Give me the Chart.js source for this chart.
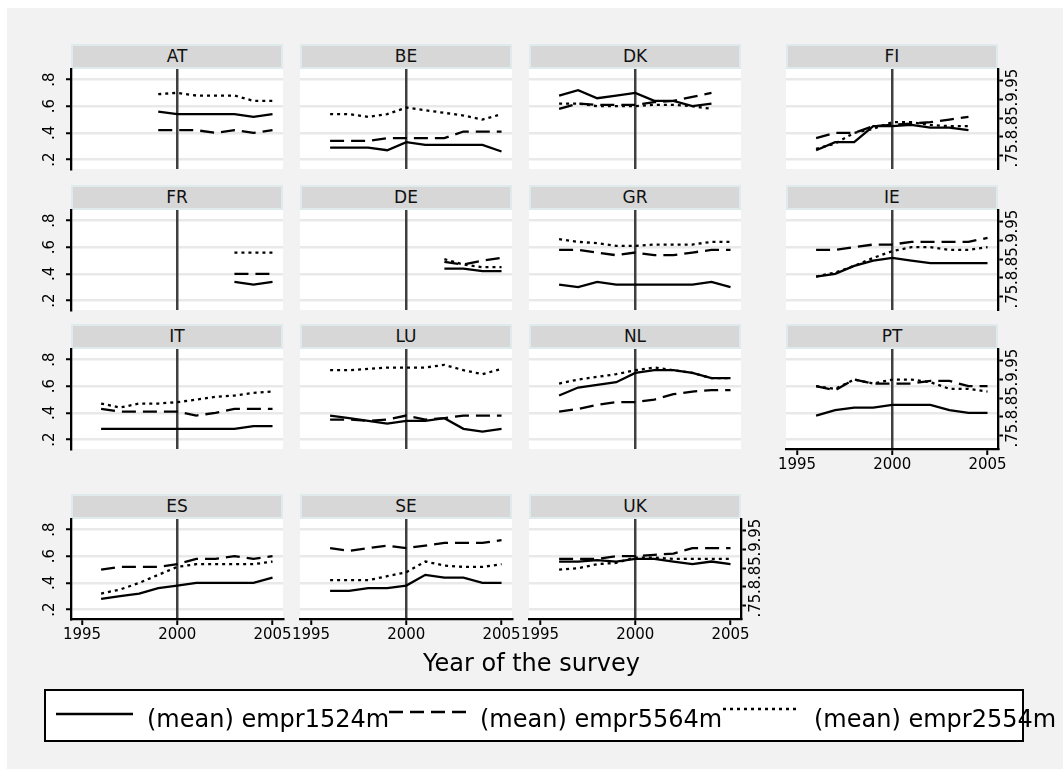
<!DOCTYPE html>
<html><head><meta charset="utf-8">
<script src="https://cdn.jsdelivr.net/npm/chart.js@4.4.1/dist/chart.umd.min.js"></script>
<style>
html,body{margin:0;padding:0;background:#fff;width:1063px;height:769px;overflow:hidden;font-family:'DejaVu Sans',sans-serif;position:relative;}
#bg{position:absolute;left:7px;top:8px;right:0;bottom:0;background:#f2f2f2;}
canvas{position:absolute;}
.strip{position:absolute;background:#d7d7d7;box-sizing:border-box;border:2px solid #dfeaed;text-align:center;font-size:17px;line-height:21px;color:#111;}
.t{position:absolute;white-space:nowrap;color:#000;}
#legbox{position:absolute;left:44px;top:689px;width:980px;height:53px;box-sizing:border-box;border:2px solid #000;background:#fff;}
</style></head><body>
<div id="bg"></div>
<div class="t" style="left:128px;top:-24.5px;font-size:24px;line-height:24px;">(mean)</div>
<div id="legbox"></div>
<script>
// ---------- data ----------
const seriesNames = ['(mean) empr1524m', '(mean) empr5564m', '(mean) empr2554m'];
const xTicks = [1995, 2000, 2005];
const xTickLabels = ['1995', '2000', '2005'];
const yTicks = [0.2, 0.4, 0.6, 0.8];
const yTickLabels = ['.2', '.4', '.6', '.8'];
const y2Ticks = [0.75, 0.8, 0.85, 0.9, 0.95];
const y2TickLabels = ['.75', '.8', '.85', '.9', '.95'];

const years_AT = [1999, 2000, 2001, 2002, 2003, 2004, 2005];
const AT_1524 = [0.56, 0.54, 0.54, 0.54, 0.54, 0.52, 0.54];
const AT_5564 = [0.42, 0.42, 0.42, 0.40, 0.42, 0.40, 0.42];
const AT_2554 = [0.69, 0.70, 0.68, 0.68, 0.68, 0.64, 0.64];

const years_BE = [1996, 1997, 1998, 1999, 2000, 2001, 2002, 2003, 2004, 2005];
const BE_1524 = [0.29, 0.29, 0.29, 0.27, 0.33, 0.31, 0.31, 0.31, 0.31, 0.26];
const BE_5564 = [0.34, 0.34, 0.34, 0.36, 0.36, 0.36, 0.36, 0.41, 0.41, 0.41];
const BE_2554 = [0.54, 0.54, 0.52, 0.54, 0.59, 0.57, 0.55, 0.53, 0.50, 0.54];

const years_DK = [1996, 1997, 1998, 1999, 2000, 2001, 2002, 2003, 2004];
const DK_1524 = [0.68, 0.72, 0.66, 0.68, 0.70, 0.64, 0.64, 0.60, 0.62];
const DK_5564 = [0.58, 0.62, 0.61, 0.61, 0.61, 0.63, 0.64, 0.67, 0.70];
const DK_2554 = [0.62, 0.62, 0.60, 0.60, 0.60, 0.61, 0.61, 0.60, 0.58];

const years_FI = [1996, 1997, 1998, 1999, 2000, 2001, 2002, 2003, 2004];
const FI_1524 = [0.27, 0.33, 0.33, 0.45, 0.45, 0.46, 0.44, 0.44, 0.42];
const FI_5564 = [0.36, 0.40, 0.40, 0.45, 0.46, 0.47, 0.48, 0.50, 0.52];
const FI_2554 = [0.28, 0.32, 0.40, 0.43, 0.48, 0.48, 0.46, 0.45, 0.45];

const years_FR = [2003, 2004, 2005];
const FR_1524 = [0.34, 0.32, 0.34];
const FR_5564 = [0.40, 0.40, 0.40];
const FR_2554 = [0.56, 0.56, 0.56];

const years_DE = [2002, 2003, 2004, 2005];
const DE_1524 = [0.44, 0.44, 0.42, 0.42];
const DE_5564 = [0.49, 0.47, 0.50, 0.52];
const DE_2554 = [0.51, 0.47, 0.45, 0.45];

const years_GR = [1996, 1997, 1998, 1999, 2000, 2001, 2002, 2003, 2004, 2005];
const GR_1524 = [0.32, 0.30, 0.34, 0.32, 0.32, 0.32, 0.32, 0.32, 0.34, 0.30];
const GR_5564 = [0.58, 0.58, 0.56, 0.54, 0.56, 0.54, 0.54, 0.56, 0.58, 0.58];
const GR_2554 = [0.66, 0.64, 0.63, 0.61, 0.61, 0.62, 0.62, 0.62, 0.64, 0.64];

const years_IE = [1996, 1997, 1998, 1999, 2000, 2001, 2002, 2003, 2004, 2005];
const IE_1524 = [0.38, 0.40, 0.46, 0.50, 0.52, 0.50, 0.48, 0.48, 0.48, 0.48];
const IE_5564 = [0.58, 0.58, 0.60, 0.62, 0.62, 0.64, 0.64, 0.64, 0.64, 0.67];
const IE_2554 = [0.38, 0.41, 0.46, 0.52, 0.57, 0.60, 0.60, 0.58, 0.58, 0.60];

const years_IT = [1996, 1997, 1998, 1999, 2000, 2001, 2002, 2003, 2004, 2005];
const IT_1524 = [0.28, 0.28, 0.28, 0.28, 0.28, 0.28, 0.28, 0.28, 0.30, 0.30];
const IT_5564 = [0.43, 0.41, 0.41, 0.41, 0.41, 0.38, 0.40, 0.43, 0.43, 0.43];
const IT_2554 = [0.47, 0.44, 0.47, 0.47, 0.48, 0.50, 0.52, 0.53, 0.55, 0.56];

const years_LU = [1996, 1997, 1998, 1999, 2000, 2001, 2002, 2003, 2004, 2005];
const LU_1524 = [0.38, 0.36, 0.34, 0.32, 0.34, 0.34, 0.36, 0.28, 0.26, 0.28];
const LU_5564 = [0.35, 0.35, 0.34, 0.35, 0.38, 0.35, 0.36, 0.38, 0.38, 0.38];
const LU_2554 = [0.72, 0.72, 0.73, 0.74, 0.74, 0.74, 0.76, 0.72, 0.69, 0.73];

const years_NL = [1996, 1997, 1998, 1999, 2000, 2001, 2002, 2003, 2004, 2005];
const NL_1524 = [0.53, 0.59, 0.61, 0.63, 0.70, 0.72, 0.72, 0.70, 0.66, 0.66];
const NL_5564 = [0.41, 0.43, 0.46, 0.48, 0.48, 0.50, 0.54, 0.56, 0.57, 0.57];
const NL_2554 = [0.62, 0.65, 0.67, 0.69, 0.72, 0.74, 0.72, 0.70, 0.66, 0.66];

const years_PT = [1996, 1997, 1998, 1999, 2000, 2001, 2002, 2003, 2004, 2005];
const PT_1524 = [0.38, 0.42, 0.44, 0.44, 0.46, 0.46, 0.46, 0.42, 0.40, 0.40];
const PT_5564 = [0.60, 0.57, 0.65, 0.62, 0.62, 0.62, 0.64, 0.64, 0.60, 0.60];
const PT_2554 = [0.60, 0.58, 0.65, 0.62, 0.65, 0.65, 0.63, 0.58, 0.58, 0.56];

const years_ES = [1996, 1997, 1998, 1999, 2000, 2001, 2002, 2003, 2004, 2005];
const ES_1524 = [0.28, 0.30, 0.32, 0.36, 0.38, 0.40, 0.40, 0.40, 0.40, 0.44];
const ES_5564 = [0.50, 0.52, 0.52, 0.52, 0.54, 0.58, 0.58, 0.60, 0.58, 0.60];
const ES_2554 = [0.32, 0.35, 0.40, 0.46, 0.52, 0.54, 0.54, 0.54, 0.54, 0.56];

const years_SE = [1996, 1997, 1998, 1999, 2000, 2001, 2002, 2003, 2004, 2005];
const SE_1524 = [0.34, 0.34, 0.36, 0.36, 0.38, 0.46, 0.44, 0.44, 0.40, 0.40];
const SE_5564 = [0.66, 0.64, 0.66, 0.68, 0.66, 0.68, 0.70, 0.70, 0.70, 0.72];
const SE_2554 = [0.42, 0.42, 0.42, 0.45, 0.48, 0.56, 0.53, 0.52, 0.52, 0.54];

const years_UK = [1996, 1997, 1998, 1999, 2000, 2001, 2002, 2003, 2004, 2005];
const UK_1524 = [0.56, 0.56, 0.57, 0.56, 0.58, 0.58, 0.56, 0.54, 0.56, 0.54];
const UK_5564 = [0.58, 0.58, 0.58, 0.60, 0.60, 0.61, 0.62, 0.66, 0.66, 0.66];
const UK_2554 = [0.50, 0.51, 0.54, 0.55, 0.59, 0.59, 0.58, 0.58, 0.58, 0.58];

// ---------- layout ----------
const colLeft = [71, 300, 529, 786];
const plotTop = [69, 210, 349, 519];
const plotW = 212, plotH = 100, stripH = 25;
const PAD_L = 40, PAD_R = 40, PAD_T = 20, PAD_B = 40;
const dashes = [[], [14, 7], [3, 4]];
const FONT = 'DejaVu Sans';

const panels = [
  {name:'AT', row:0, col:0, years:years_AT, s:[AT_1524, AT_5564, AT_2554]},
  {name:'BE', row:0, col:1, years:years_BE, s:[BE_1524, BE_5564, BE_2554]},
  {name:'DK', row:0, col:2, years:years_DK, s:[DK_1524, DK_5564, DK_2554]},
  {name:'FI', row:0, col:3, years:years_FI, s:[FI_1524, FI_5564, FI_2554], right:true},
  {name:'FR', row:1, col:0, years:years_FR, s:[FR_1524, FR_5564, FR_2554]},
  {name:'DE', row:1, col:1, years:years_DE, s:[DE_1524, DE_5564, DE_2554]},
  {name:'GR', row:1, col:2, years:years_GR, s:[GR_1524, GR_5564, GR_2554]},
  {name:'IE', row:1, col:3, years:years_IE, s:[IE_1524, IE_5564, IE_2554], right:true},
  {name:'IT', row:2, col:0, years:years_IT, s:[IT_1524, IT_5564, IT_2554]},
  {name:'LU', row:2, col:1, years:years_LU, s:[LU_1524, LU_5564, LU_2554]},
  {name:'NL', row:2, col:2, years:years_NL, s:[NL_1524, NL_5564, NL_2554]},
  {name:'PT', row:2, col:3, years:years_PT, s:[PT_1524, PT_5564, PT_2554], right:true, bottom:true},
  {name:'ES', row:3, col:0, years:years_ES, s:[ES_1524, ES_5564, ES_2554], bottom:true},
  {name:'SE', row:3, col:1, years:years_SE, s:[SE_1524, SE_5564, SE_2554], bottom:true},
  {name:'UK', row:3, col:2, years:years_UK, s:[UK_1524, UK_5564, UK_2554], right:true, bottom:true}
];

const whiteArea = {
  id:'whiteArea',
  beforeDraw(chart){
    const a = chart.chartArea, ctx = chart.ctx;
    ctx.save(); ctx.fillStyle = '#ffffff';
    ctx.fillRect(a.left, a.top, a.right - a.left, a.bottom - a.top);
    ctx.restore();
  }
};

function labelFrom(ticks, labels){
  return v => { const i = ticks.findIndex(t => Math.abs(t - v) < 1e-9); return i >= 0 ? labels[i] : ''; };
}

panels.forEach(p => {
  const left = colLeft[p.col], top = plotTop[p.row];
  const strip = document.createElement('div');
  strip.className = 'strip';
  strip.style.left = left + 'px'; strip.style.top = (top - stripH) + 'px';
  strip.style.width = plotW + 'px'; strip.style.height = stripH + 'px';
  strip.textContent = p.name;
  document.body.appendChild(strip);

  const cv = document.createElement('canvas');
  const W = plotW + PAD_L + PAD_R, H = plotH + PAD_T + PAD_B;
  cv.width = W; cv.height = H;
  cv.style.left = (left - PAD_L) + 'px'; cv.style.top = (top - PAD_T) + 'px';
  cv.style.width = W + 'px'; cv.style.height = H + 'px';
  document.body.appendChild(cv);

  const leftAxis = p.col === 0, rightAxis = !!p.right, bottomAxis = !!p.bottom;
  const tickFont = {family: FONT, size: 15};

  new Chart(cv, {
    type: 'line',
    data: {
      datasets: p.s.map((vals, i) => ({
        label: seriesNames[i],
        data: p.years.map((yr, j) => ({x: yr, y: vals[j]})),
        borderColor: '#000', borderWidth: 2.3, borderDash: dashes[i],
        pointRadius: 0, tension: 0, fill: false, yAxisID: 'y', xAxisID: 'x'
      }))
    },
    options: {
      responsive: false, animation: false, devicePixelRatio: 1, events: [],
      layout: {padding: {top: PAD_T, left: 0, right: 0, bottom: 0}},
      plugins: {legend: {display: false}, tooltip: {enabled: false}, title: {display: false}},
      scales: {
        x: {
          type: 'linear', position: 'bottom', min: 1994.42, max: 2005.55,
          afterBuildTicks: s => { s.ticks = xTicks.map(v => ({value: v})); },
          afterFit: s => { s.height = PAD_B; },
          grid: {drawOnChartArea: true, lineWidth: 2.5,
                 color: c => (c.tick && c.tick.value === 2000) ? '#404040' : 'rgba(0,0,0,0)',
                 drawTicks: bottomAxis, tickLength: 6, tickColor: '#000', tickWidth: 2, z: 0},
          border: {display: bottomAxis, color: '#000', width: 2.3},
          ticks: {display: bottomAxis, color: '#000', font: tickFont, padding: 1,
                  maxRotation: 0, minRotation: 0, autoSkip: false,
                  callback: labelFrom(xTicks, xTickLabels)}
        },
        y: {
          type: 'linear', position: 'left', min: 0.129, max: 0.879,
          afterBuildTicks: s => { s.ticks = yTicks.map(v => ({value: v})); },
          afterFit: s => { s.width = PAD_L; },
          grid: {color: '#e9e9e9', lineWidth: 2.5, drawTicks: leftAxis, tickLength: 5,
                 tickColor: '#000', tickWidth: 2, z: -1},
          border: {display: leftAxis, color: '#000', width: 2.3},
          ticks: {display: leftAxis, minRotation: 90, maxRotation: 90, crossAlign: 'center',
                  padding: 9, color: '#000', font: tickFont, autoSkip: false,
                  callback: labelFrom(yTicks, yTickLabels)}
        },
        y2: {
          type: 'linear', position: 'right', min: 0.7145, max: 0.981,
          afterBuildTicks: s => { s.ticks = y2Ticks.map(v => ({value: v})); },
          afterFit: s => { s.width = PAD_R; },
          grid: {display: rightAxis, drawOnChartArea: false, drawTicks: rightAxis, tickLength: 5,
                 tickColor: '#000', tickWidth: 2},
          border: {display: rightAxis, color: '#000', width: 2.3},
          ticks: {display: rightAxis, minRotation: 90, maxRotation: 90, crossAlign: 'center',
                  padding: -2, color: '#000', font: tickFont, autoSkip: false,
                  callback: labelFrom(y2Ticks, y2TickLabels)}
        }
      }
    },
    plugins: [whiteArea]
  });
});

// ---------- axis title ----------
const xt = document.createElement('div');
xt.className = 't';
xt.style.cssText = 'left:0;width:1063px;text-align:center;top:649px;font-size:24px;line-height:28px;';
xt.textContent = 'Year of the survey';
document.body.appendChild(xt);

// ---------- legend ----------
const legendSampleX = [56, 389, 723];
const legendTextX = [147, 480, 814];
const legendSampleY = [714, 712, 709];
const lc = document.createElement('canvas');
lc.width = 1063; lc.height = 769;
lc.style.left = '0px'; lc.style.top = '0px'; lc.style.width = '1063px'; lc.style.height = '769px';
document.body.appendChild(lc);
const lctx = lc.getContext('2d');
lctx.strokeStyle = '#000'; lctx.lineWidth = 2.3;
legendSampleX.forEach((x0, i) => {
  lctx.setLineDash(dashes[i]);
  lctx.beginPath(); lctx.moveTo(x0, legendSampleY[i]); lctx.lineTo(x0 + 77, legendSampleY[i]); lctx.stroke();
});
seriesNames.forEach((nm, i) => {
  const d = document.createElement('div');
  d.className = 't';
  d.style.cssText = 'left:' + legendTextX[i] + 'px;top:705px;font-size:24px;line-height:28px;';
  d.textContent = nm;
  document.body.appendChild(d);
});
</script>
</body></html>
